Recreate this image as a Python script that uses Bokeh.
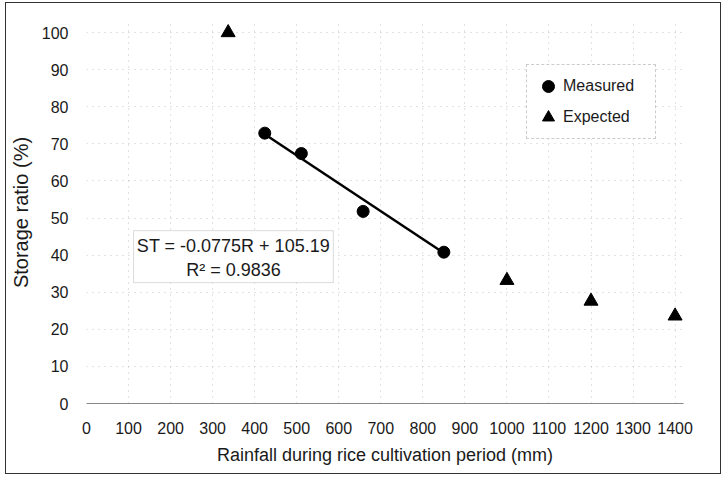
from bokeh.plotting import figure
from bokeh.models import Range1d, FixedTicker, BoxAnnotation, Label, Legend, LegendItem, ColumnDataSource
from bokeh.embed import file_html
from bokeh.resources import INLINE

# ---- data ----
measured_rain = [424, 511, 658, 850]
measured_ratio = [72.9, 67.4, 51.8, 40.8]
expected_rain = [337, 1000, 1200, 1400]
expected_ratio = [100, 33.2, 27.6, 23.6]
trend_rain = [424, 850]
trend_ratio = [72.6, 40.6]
x_ticks = [0, 100, 200, 300, 400, 500, 600, 700, 800, 900, 1000, 1100, 1200, 1300, 1400]
y_ticks = [0, 10, 20, 30, 40, 50, 60, 70, 80, 90, 100]
eq_lines = ["ST = -0.0775R + 105.19", "R\u00b2 = 0.9836"]

FONT = "Liberation Sans"
TXT = "#1a1a1a"

p = figure(width=716, height=472, output_backend="svg", toolbar_location=None,
           x_range=Range1d(0, 1420), y_range=Range1d(0, 103),
           min_border_left=80, min_border_right=39, min_border_top=18, min_border_bottom=72)
p.styles = {"border": "1px solid #333333", "margin-left": "5px", "margin-top": "2px"}
p.outline_line_color = None
p.background_fill_color = "white"
p.border_fill_color = "white"

# axes
p.xaxis.ticker = FixedTicker(ticks=x_ticks)
p.yaxis.ticker = FixedTicker(ticks=y_ticks)
for ax in (p.xaxis[0], p.yaxis[0]):
    ax.major_tick_line_color = None
    ax.minor_tick_line_color = None
    ax.major_label_text_font = FONT
    ax.major_label_text_font_size = "16px"
    ax.major_label_text_color = TXT
    ax.axis_label_text_font = FONT
    ax.axis_label_text_font_style = "normal"
    ax.axis_label_text_color = TXT
p.xaxis.axis_label_text_font_size = "18px"
p.yaxis.axis_label_text_font_size = "20px"
p.xaxis.axis_line_color = "#888888"
p.xaxis.axis_line_width = 1
p.yaxis.axis_line_color = None
p.xaxis.axis_label = "Rainfall during rice cultivation period (mm)"
p.yaxis.axis_label = "Storage ratio (%)"
p.xaxis.major_label_standoff = 12
p.yaxis.major_label_standoff = 12
p.xaxis.axis_label_standoff = 8
p.yaxis.axis_label_standoff = 7

# grid
for g in (p.xgrid[0], p.ygrid[0]):
    g.grid_line_color = "#c4c4c4"
    g.grid_line_dash = "1 5"
    g.grid_line_width = 1
p.xgrid.ticker = FixedTicker(ticks=x_ticks[1:])
p.ygrid.ticker = FixedTicker(ticks=y_ticks[1:])

# data
src_m = ColumnDataSource(dict(x=measured_rain, y=measured_ratio))
src_e = ColumnDataSource(dict(x=expected_rain, y=expected_ratio))
p.line(trend_rain, trend_ratio, line_color="black", line_width=2.5)
r_m = p.scatter("x", "y", source=src_m, marker="circle", size=12, fill_color="black", line_color="black")
r_e = p.scatter("x", "y", source=src_e, marker="triangle", size=14, fill_color="black", line_color="black")

# equation box
box = BoxAnnotation(left=112, right=587, bottom=32.6, top=46.6, fill_color="white", fill_alpha=1.0,
                    line_color="#888888", line_width=1)
p.add_layout(box)
p.add_layout(Label(x=349.5, y=42.5, text=eq_lines[0], text_align="center", text_baseline="middle",
                   text_font=FONT, text_font_size="18px", text_color=TXT))
p.add_layout(Label(x=349.5, y=36.0, text=eq_lines[1], text_align="center", text_baseline="middle",
                   text_font=FONT, text_font_size="18px", text_color=TXT))

# legend
legend = Legend(items=[LegendItem(label="Measured", renderers=[r_m]),
                       LegendItem(label="Expected", renderers=[r_e])],
                location=(440, 264))
legend.label_text_font = FONT
legend.label_text_font_size = "16px"
legend.label_text_color = TXT
legend.glyph_width = 30
legend.glyph_height = 30
legend.spacing = 1
legend.padding = 6
legend.margin = 0
legend.label_standoff = 0
legend.label_width = 86
legend.border_line_color = "#999999"
legend.border_line_dash = "1 2"
legend.background_fill_color = "white"
legend.background_fill_alpha = 1.0
p.add_layout(legend, "center")

open("out.html", "w").write(file_html(p, INLINE))
